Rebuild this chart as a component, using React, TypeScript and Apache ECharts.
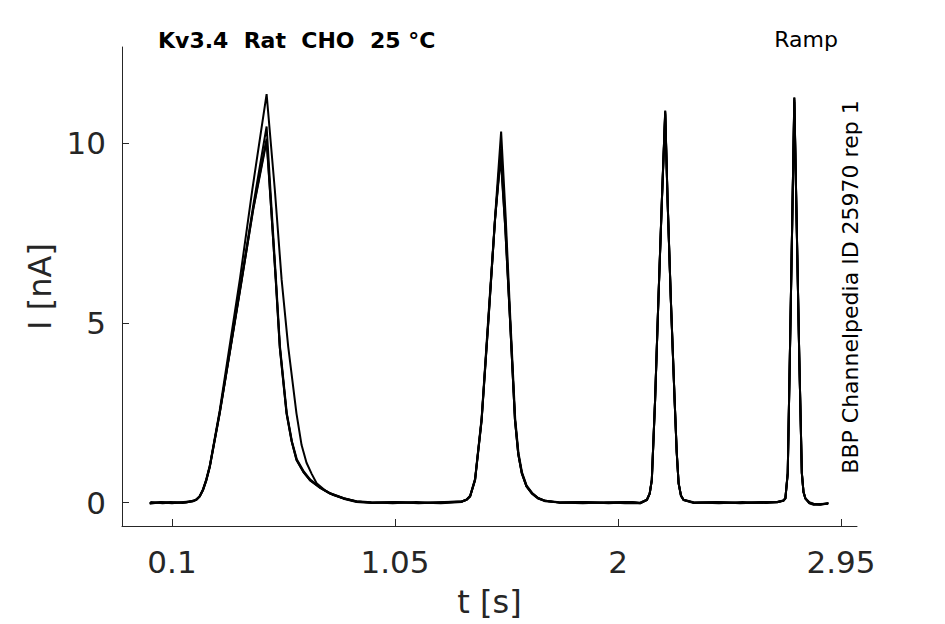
import React, { useEffect, useRef } from "react";
import * as echarts from "echarts";

// Axis tick values (as printed in the reference)
const xTicks = [0.1, 1.05, 2, 2.95];
const yTicks = [0, 5, 10];

// Sweep 1 (bulk trace)
const sweep1: [number, number][] = [
  [0.005, -0.03], [0.05, 0.01], [0.1, -0.02], [0.15, 0.02], [0.19, 0.04], [0.204, 0.08], [0.218, 0.17],
  [0.232, 0.35], [0.246, 0.62], [0.261, 1.0], [0.303, 2.49], [0.35, 4.34], [0.397, 6.2], [0.446, 8.15],
  [0.503, 10.05], [0.522, 8.2], [0.542, 6.2], [0.559, 4.34], [0.588, 2.49], [0.61, 1.7], [0.63, 1.19],
  [0.66, 0.85], [0.687, 0.63], [0.73, 0.42], [0.772, 0.26], [0.83, 0.12], [0.886, 0.03], [0.95, 0.0],
  [1.05, 0.02], [1.15, -0.02], [1.25, 0.01], [1.334, 0.03], [1.355, 0.08], [1.37, 0.17], [1.391, 0.63],
  [1.419, 2.3], [1.448, 5.08], [1.476, 7.86], [1.5, 9.6], [1.519, 7.7], [1.54, 5.08], [1.561, 2.3],
  [1.575, 1.35], [1.59, 0.82], [1.61, 0.45], [1.633, 0.26], [1.66, 0.12], [1.69, 0.05], [1.75, 0.0],
  [1.85, -0.02], [1.95, 0.01], [2.05, 0.02], [2.094, -0.02], [2.123, 0.075], [2.135, 0.25], [2.144, 0.63],
  [2.158, 2.86], [2.172, 5.64], [2.187, 8.42], [2.201, 10.85], [2.211, 8.42], [2.225, 5.64], [2.241, 2.86],
  [2.25, 1.4], [2.258, 0.54], [2.268, 0.2], [2.279, 0.075], [2.322, 0.0], [2.42, 0.02], [2.52, -0.02],
  [2.62, 0.01], [2.678, 0.02], [2.705, 0.06], [2.713, 0.12], [2.723, 0.82], [2.732, 4.06], [2.742, 7.77],
  [2.751, 11.2], [2.761, 7.77], [2.772, 4.06], [2.783, 0.82], [2.79, 0.3], [2.798, 0.12], [2.815, 0.0],
  [2.833, -0.04], [2.86, -0.06], [2.896, -0.02],
];

// Sweep 2
const sweep2: [number, number][] = [
  [0.008, 0.02], [0.06, -0.02], [0.11, 0.01], [0.16, 0.0], [0.19, 0.05], [0.204, 0.09], [0.218, 0.18],
  [0.232, 0.36], [0.246, 0.63], [0.261, 1.01], [0.303, 2.5], [0.35, 4.36], [0.397, 6.25], [0.447, 8.3],
  [0.503, 10.46], [0.523, 8.3], [0.543, 6.2], [0.56, 4.34], [0.589, 2.49], [0.611, 1.7], [0.632, 1.2],
  [0.662, 0.86], [0.689, 0.64], [0.732, 0.42], [0.774, 0.26], [0.832, 0.12], [0.886, 0.04], [0.95, 0.01],
  [1.04, -0.02], [1.14, 0.02], [1.24, -0.01], [1.334, 0.03], [1.355, 0.08], [1.37, 0.18], [1.391, 0.64],
  [1.419, 2.32], [1.448, 5.12], [1.477, 7.95], [1.501, 9.85], [1.52, 7.8], [1.54, 5.1], [1.561, 2.32],
  [1.575, 1.36], [1.59, 0.83], [1.61, 0.46], [1.633, 0.27], [1.66, 0.12], [1.69, 0.05], [1.75, 0.01],
  [1.86, 0.02], [1.96, -0.02], [2.04, 0.01], [2.094, 0.0], [2.123, 0.08], [2.135, 0.26], [2.144, 0.64],
  [2.158, 2.88], [2.172, 5.66], [2.187, 8.45], [2.201, 10.9], [2.211, 8.45], [2.225, 5.66], [2.241, 2.88],
  [2.25, 1.42], [2.258, 0.55], [2.268, 0.2], [2.279, 0.08], [2.322, 0.01], [2.43, -0.02], [2.53, 0.02],
  [2.63, -0.01], [2.678, 0.01], [2.705, 0.06], [2.713, 0.13], [2.723, 0.84], [2.732, 4.08], [2.742, 7.8],
  [2.751, 11.27], [2.761, 7.8], [2.772, 4.08], [2.783, 0.84], [2.79, 0.3], [2.798, 0.12], [2.815, -0.01],
  [2.833, -0.05], [2.86, -0.04], [2.894, -0.03],
];

// Sweep 3 (tallest first response)
const sweep3: [number, number][] = [
  [0.006, 0.0], [0.055, 0.02], [0.105, -0.01], [0.155, 0.01], [0.19, 0.05], [0.204, 0.09], [0.218, 0.18],
  [0.232, 0.37], [0.246, 0.65], [0.261, 1.03], [0.303, 2.55], [0.347, 4.42], [0.39, 6.25], [0.442, 8.7],
  [0.503, 11.36], [0.538, 8.7], [0.567, 6.2], [0.595, 4.34], [0.63, 2.49], [0.652, 1.6], [0.673, 1.11],
  [0.695, 0.8], [0.716, 0.54], [0.75, 0.35], [0.787, 0.21], [0.84, 0.1], [0.886, 0.03], [0.95, 0.0],
  [1.06, 0.01], [1.16, -0.01], [1.26, 0.02], [1.334, 0.03], [1.355, 0.09], [1.37, 0.19], [1.391, 0.66],
  [1.419, 2.36], [1.448, 5.2], [1.478, 8.1], [1.502, 10.32], [1.521, 8.0], [1.541, 5.15], [1.562, 2.34],
  [1.576, 1.38], [1.591, 0.84], [1.611, 0.47], [1.634, 0.27], [1.66, 0.13], [1.69, 0.05], [1.75, 0.0],
  [1.84, 0.01], [1.94, -0.01], [2.06, 0.02], [2.094, -0.01], [2.123, 0.08], [2.135, 0.26], [2.144, 0.64],
  [2.158, 2.87], [2.172, 5.65], [2.187, 8.44], [2.201, 10.88], [2.211, 8.44], [2.225, 5.65], [2.241, 2.87],
  [2.25, 1.41], [2.258, 0.55], [2.268, 0.2], [2.279, 0.08], [2.322, 0.0], [2.41, 0.01], [2.51, -0.01],
  [2.61, 0.02], [2.678, 0.02], [2.705, 0.06], [2.713, 0.12], [2.723, 0.83], [2.732, 4.07], [2.742, 7.79],
  [2.751, 11.25], [2.761, 7.79], [2.772, 4.07], [2.783, 0.83], [2.79, 0.3], [2.798, 0.12], [2.815, 0.01],
  [2.833, -0.03], [2.86, -0.05], [2.897, -0.01],
];

// Sweep 4
const sweep4: [number, number][] = [
  [0.004, -0.01], [0.045, 0.0], [0.095, 0.02], [0.145, -0.01], [0.19, 0.04], [0.204, 0.08], [0.218, 0.17],
  [0.232, 0.34], [0.246, 0.61], [0.261, 0.99], [0.303, 2.47], [0.35, 4.32], [0.397, 6.18], [0.446, 8.18],
  [0.503, 10.12], [0.522, 8.22], [0.542, 6.18], [0.559, 4.32], [0.588, 2.47], [0.61, 1.69], [0.631, 1.18],
  [0.661, 0.84], [0.688, 0.62], [0.731, 0.41], [0.773, 0.25], [0.83, 0.11], [0.886, 0.02], [0.95, -0.01],
  [1.045, 0.01], [1.145, 0.0], [1.245, -0.02], [1.334, 0.02], [1.355, 0.08], [1.37, 0.17], [1.391, 0.62],
  [1.419, 2.29], [1.448, 5.06], [1.476, 7.88], [1.5, 9.7], [1.519, 7.72], [1.54, 5.07], [1.561, 2.29],
  [1.575, 1.34], [1.59, 0.81], [1.61, 0.45], [1.633, 0.25], [1.66, 0.11], [1.69, 0.04], [1.75, 0.0],
  [1.87, 0.01], [1.97, 0.0], [2.03, -0.02], [2.094, -0.02], [2.123, 0.07], [2.135, 0.25], [2.144, 0.62],
  [2.158, 2.85], [2.172, 5.62], [2.187, 8.4], [2.201, 10.8], [2.211, 8.4], [2.225, 5.62], [2.241, 2.85],
  [2.25, 1.39], [2.258, 0.53], [2.268, 0.19], [2.279, 0.07], [2.322, -0.01], [2.44, 0.01], [2.54, -0.01],
  [2.64, 0.0], [2.678, 0.01], [2.705, 0.05], [2.713, 0.11], [2.723, 0.81], [2.732, 4.05], [2.742, 7.75],
  [2.751, 11.15], [2.761, 7.75], [2.772, 4.05], [2.783, 0.81], [2.79, 0.29], [2.798, 0.11], [2.815, -0.02],
  [2.833, -0.06], [2.86, -0.05], [2.895, -0.03],
];

const sweeps = [sweep1, sweep2, sweep3, sweep4];

const FONT = '"DejaVu Sans", "Noto Sans", sans-serif';

export default function App() {
  const ref = useRef<HTMLDivElement>(null);

  useEffect(() => {
    if (!ref.current) return;
    const chart = echarts.init(ref.current, undefined, { renderer: "svg" });
    const axisColor = "#262626";
    chart.setOption({
      animation: false,
      backgroundColor: "#ffffff",
      grid: { left: 122, right: 88, top: 47, bottom: 98 },
      xAxis: {
        type: "value",
        min: -0.113,
        max: 3.018,
        name: "t [s]",
        nameLocation: "middle",
        nameGap: 60,
        nameTextStyle: { fontFamily: FONT, fontSize: 32, color: axisColor },
        axisLine: { show: true, onZero: false, lineStyle: { color: axisColor, width: 1 } },
        axisTick: { show: true, inside: true, length: 7, customValues: xTicks, lineStyle: { color: axisColor } },
        axisLabel: { customValues: xTicks, margin: 20, fontFamily: FONT, fontSize: 31, color: axisColor },
        splitLine: { show: false },
      },
      yAxis: {
        type: "value",
        min: -0.65,
        max: 12.67,
        name: "I [nA]",
        nameLocation: "middle",
        nameGap: 64,
        nameRotate: 90,
        nameTextStyle: { fontFamily: FONT, fontSize: 32, color: axisColor },
        axisLine: { show: true, onZero: false, lineStyle: { color: axisColor, width: 1 } },
        axisTick: { show: true, inside: true, length: 7, customValues: yTicks, lineStyle: { color: axisColor } },
        axisLabel: { customValues: yTicks, margin: 16, fontFamily: FONT, fontSize: 31, color: axisColor },
        splitLine: { show: false },
      },
      graphic: [
        {
          type: "text",
          x: 158,
          y: 40,
          style: {
            text: "Kv3.4  Rat  CHO  25 °C",
            fontFamily: FONT,
            fontSize: 22,
            fontWeight: "bold",
            fill: "#000",
            textAlign: "left",
            textVerticalAlign: "middle",
          },
        },
        {
          type: "text",
          x: 838,
          y: 39,
          style: {
            text: "Ramp",
            fontFamily: FONT,
            fontSize: 22,
            fill: "#000",
            textAlign: "right",
            textVerticalAlign: "middle",
          },
        },
        {
          type: "text",
          x: 850,
          y: 287,
          rotation: Math.PI / 2,
          style: {
            text: "BBP Channelpedia ID 25970 rep 1",
            fontFamily: FONT,
            fontSize: 22,
            fill: "#000",
            textAlign: "center",
            textVerticalAlign: "middle",
          },
        },
      ],
      series: sweeps.map((d, i) => ({
        type: "line",
        name: "sweep " + (i + 1),
        data: d,
        showSymbol: false,
        symbol: "none",
        lineStyle: { color: "#000000", width: 2 },
        z: 2,
      })),
    });
    return () => chart.dispose();
  }, []);

  return (
    <div
      ref={ref}
      style={{ position: "fixed", left: 0, top: 0, width: 945, height: 624, background: "#fff" }}
    />
  );
}
